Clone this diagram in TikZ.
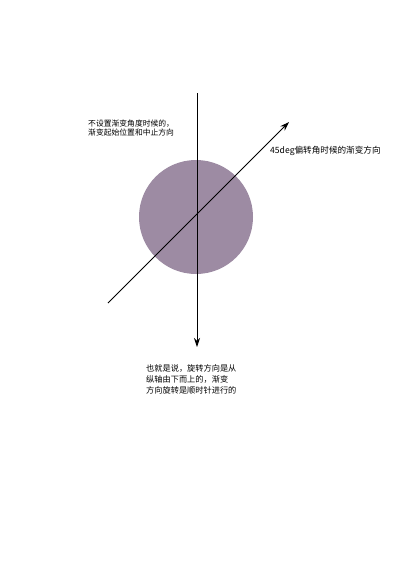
\documentclass[tikz,border=0pt]{standalone}
\usepackage{fontspec}
\setmainfont{Noto Sans CJK SC}
\usetikzlibrary{arrows.meta}
\begin{document}
\begin{tikzpicture}[
    x=1pt, y=-1pt,
    noteText/.style={font=\fontsize{7.8}{9}\selectfont, align=left, inner sep=0pt, anchor=north west},
    dirArrow/.style={line width=0.9pt, -{Stealth[length=9pt, width=6pt]}},
]
\useasboundingbox[fill=white] (0,0) rectangle (400,566);
% gradient circle
\node[circle, fill={rgb,255:red,157;green,139;blue,163}, minimum size=114pt, inner sep=0pt] (disc) at (196,217) {};
% axes
\coordinate (vTop) at (197,93);
\coordinate (vEnd) at (197,347);
\coordinate (dStart) at (108,303);
\coordinate (dEnd) at (289,122);
\draw[dirArrow] (vTop) -- (vEnd);
\draw[dirArrow] (dStart) -- (dEnd);

% notes
\node[noteText] (defaultNote) at (88,120) {不设置渐变角度时候的，\\渐变起始位置和中止方向};
\node[noteText, anchor=west, font=\fontsize{8.6}{9}\selectfont] (degNote) at (270,151) {45deg偏转角时候的渐变方向};
\node[noteText, font=\fontsize{8.2}{11}\selectfont] (resultNote) at (146,364) {也就是说，旋转方向是从\\纵轴由下而上的，渐变\\方向旋转是顺时针进行的};
\end{tikzpicture}
\end{document}
